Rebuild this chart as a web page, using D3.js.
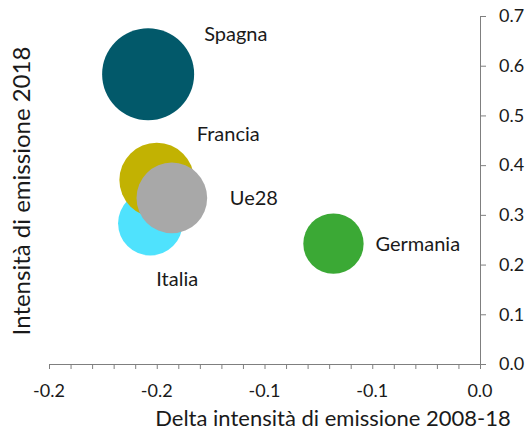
<!DOCTYPE html>
<html>
<head>
<meta charset="utf-8">
<script src="https://cdn.jsdelivr.net/npm/d3@7"></script>
<style>
  body { margin: 0; background: #fff; }
  svg text { font-family: Lato, "Noto Sans", sans-serif; fill: #1a1a1a; }
</style>
</head>
<body>
<div id="chart"></div>
<script>
// data
var countries = ["Spagna", "Italia", "Francia", "Ue28", "Germania"];
var deltaIntensity = [-0.154, -0.153, -0.150, -0.143, -0.068];
var intensity2018 = [0.583, 0.283, 0.370, 0.334, 0.242];
var bubbleSize = [100, 49, 66, 59, 43];
var colors = ["#02596a", "#4fe2fd", "#c2b202", "#a8a8a8", "#3ba935"];

var xTicks = [-0.2, -0.15, -0.1, -0.05, 0];
var xTickLabels = ["-0.2", "-0.2", "-0.1", "-0.1", "0.0"];
var yTicks = [0, 0.1, 0.2, 0.3, 0.4, 0.5, 0.6, 0.7];

// label offsets from bubble centre (layout only)
var labelOffsets = {
  Spagna: [56, -33],
  Italia: [6, 63],
  Francia: [40, -39],
  Ue28: [58, 7],
  Germania: [42, 7]
};

var width = 531, height = 432;
var margin = { top: 16, right: 51, bottom: 68, left: 49 };

var svg = d3.select("#chart").append("svg")
  .attr("width", width)
  .attr("height", height);

var x = d3.scaleLinear().domain([-0.2, 0]).range([margin.left, width - margin.right]);
var y = d3.scaleLinear().domain([0, 0.7]).range([height - margin.bottom, margin.top]);
var r = d3.scaleSqrt().domain([0, 100]).range([0, 46]);

// x axis with minor ticks every 0.01
var xMinor = d3.range(0, 21).map(function (i) { return -0.2 + i * 0.01; });
var xAxis = svg.append("g")
  .attr("transform", "translate(0," + y(0) + ")")
  .call(d3.axisBottom(x).tickValues(xMinor).tickSize(5).tickFormat(""));
xAxis.select(".domain").attr("stroke", "#7f7f7f");
xAxis.selectAll(".tick line").attr("stroke", "#7f7f7f");

svg.selectAll(".xlabel")
  .data(xTicks)
  .enter().append("text")
  .attr("class", "xlabel")
  .attr("x", function (d) { return x(d); })
  .attr("y", y(0) + 33)
  .attr("text-anchor", "middle")
  .style("font-size", "18px")
  .text(function (d, i) { return xTickLabels[i]; });

// y axis on the right
var yAxis = svg.append("g")
  .attr("transform", "translate(" + x(0) + ",0)")
  .call(d3.axisRight(y).tickValues(yTicks).tickSize(6).tickPadding(13).tickFormat(d3.format(".1f")));
yAxis.select(".domain").attr("stroke", "#7f7f7f");
yAxis.selectAll(".tick line").attr("stroke", "#7f7f7f");
yAxis.selectAll(".tick text")
  .style("font-size", "18px")
  .attr("fill", "#1a1a1a");

// bubbles
var rows = countries.map(function (c, i) {
  return { name: c, dx: deltaIntensity[i], val: intensity2018[i], size: bubbleSize[i], color: colors[i] };
});

svg.selectAll(".bubble")
  .data(rows)
  .enter().append("circle")
  .attr("class", "bubble")
  .attr("cx", function (d) { return x(d.dx); })
  .attr("cy", function (d) { return y(d.val); })
  .attr("r", function (d) { return r(d.size); })
  .attr("fill", function (d) { return d.color; });

svg.selectAll(".blabel")
  .data(rows)
  .enter().append("text")
  .attr("class", "blabel")
  .attr("x", function (d) { return x(d.dx) + labelOffsets[d.name][0]; })
  .attr("y", function (d) { return y(d.val) + labelOffsets[d.name][1]; })
  .style("font-size", "20px")
  .text(function (d) { return d.name; });

// axis titles
svg.append("text")
  .attr("x", 333)
  .attr("y", 426)
  .attr("text-anchor", "middle")
  .style("font-size", "22px")
  .text("Delta intensità di emissione 2008-18");

svg.append("text")
  .attr("transform", "translate(30,191) rotate(-90)")
  .attr("text-anchor", "middle")
  .style("font-size", "24px")
  .text("Intensità di emissione 2018");
</script>
</body>
</html>
